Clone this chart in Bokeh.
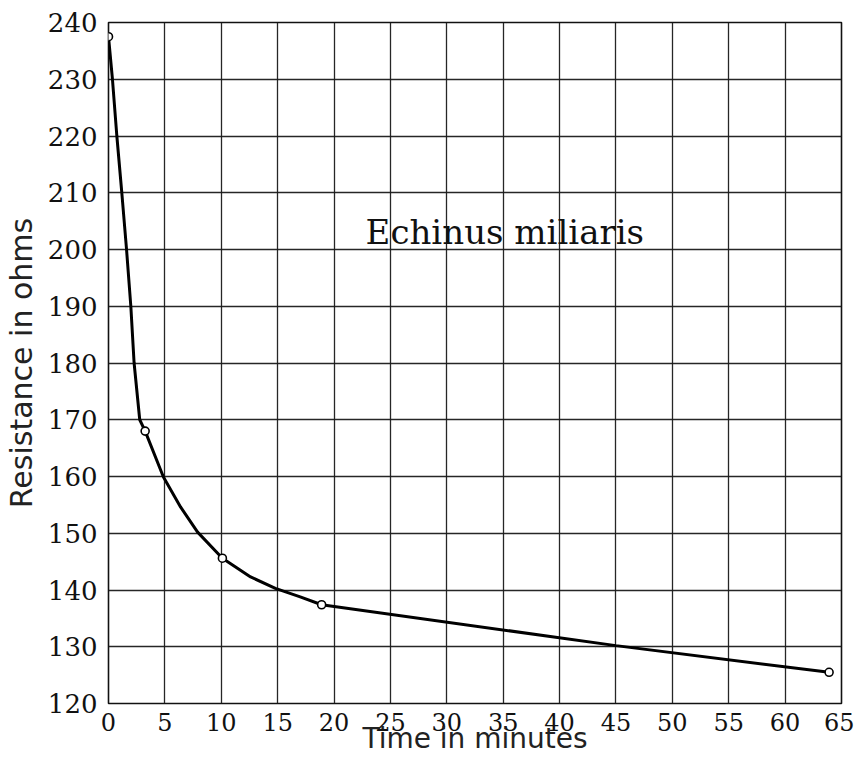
from bokeh.plotting import figure
from bokeh.models import Label, FixedTicker, Range1d
from bokeh.embed import file_html
from bokeh.resources import INLINE

# measured points (small circles)
time_min = [0, 3.25, 10.1, 18.9, 63.9]
resistance = [237.5, 168.0, 145.6, 137.4, 125.5]

curve_t = [0, 0.35, 0.74, 1.18, 1.6, 1.98, 2.27, 2.77, 3.25, 4.87, 6.4, 7.9,
           10.1, 12.6, 14.8, 17.0, 18.9, 45.0, 63.9]
curve_r = [237.5, 230, 220, 210, 200, 190, 180, 170, 168.0, 159.9, 154.6, 150.2,
           145.6, 142.3, 140.3, 138.8, 137.4, 130.2, 125.5]

x_ticks = list(range(0, 70, 5))
y_ticks = list(range(120, 250, 10))

title_text = "Echinus miliaris"
x_label = "Time in minutes"
y_label = "Resistance in ohms"

p = figure(width=854, height=757, output_backend="svg", toolbar_location=None,
           x_range=Range1d(0, 65), y_range=Range1d(120, 240),
           min_border_left=108, min_border_right=13, min_border_top=22,
           min_border_bottom=54)
p.frame_width = 733
p.frame_height = 681
p.background_fill_color = "white"
p.border_fill_color = "white"
p.outline_line_color = "#111111"
p.outline_line_width = 1.6

for ax in (p.xaxis, p.yaxis):
    ax.axis_line_color = None
    ax.major_tick_line_color = None
    ax.minor_tick_line_color = None
    ax.major_label_text_font = "DejaVu Serif"
    ax.major_label_text_color = "#111111"
    ax.axis_label_text_font = "DejaVu Sans"
    ax.axis_label_text_font_style = "normal"
    ax.axis_label_text_color = "#222222"

p.xaxis.major_label_text_font_size = "24px"
p.yaxis.major_label_text_font_size = "26px"
p.xaxis.ticker = FixedTicker(ticks=x_ticks)
p.yaxis.ticker = FixedTicker(ticks=y_ticks)
p.xaxis.major_label_standoff = 3
p.yaxis.major_label_standoff = 5

p.xaxis.axis_label = x_label
p.xaxis.axis_label_text_font_size = "28px"
p.xaxis.axis_label_standoff = -12
p.yaxis.axis_label = y_label
p.yaxis.axis_label_text_font_size = "30px"
p.yaxis.axis_label_standoff = 6

p.xgrid.ticker = FixedTicker(ticks=x_ticks)
p.ygrid.ticker = FixedTicker(ticks=y_ticks)
for g in (p.xgrid, p.ygrid):
    g.grid_line_color = "#1a1a1a"
    g.grid_line_width = 1.3
    g.grid_line_alpha = 0.95

p.line(curve_t, curve_r, line_color="black", line_width=3)
p.scatter(time_min, resistance, size=8, marker="circle", fill_color="white",
          line_color="black", line_width=1.6)

p.add_layout(Label(x=22.8, y=203.0, text=title_text, text_font="DejaVu Serif",
                   text_font_size="34px", text_color="#111111",
                   text_baseline="alphabetic"))

open("out.html", "w").write(file_html(p, INLINE))
